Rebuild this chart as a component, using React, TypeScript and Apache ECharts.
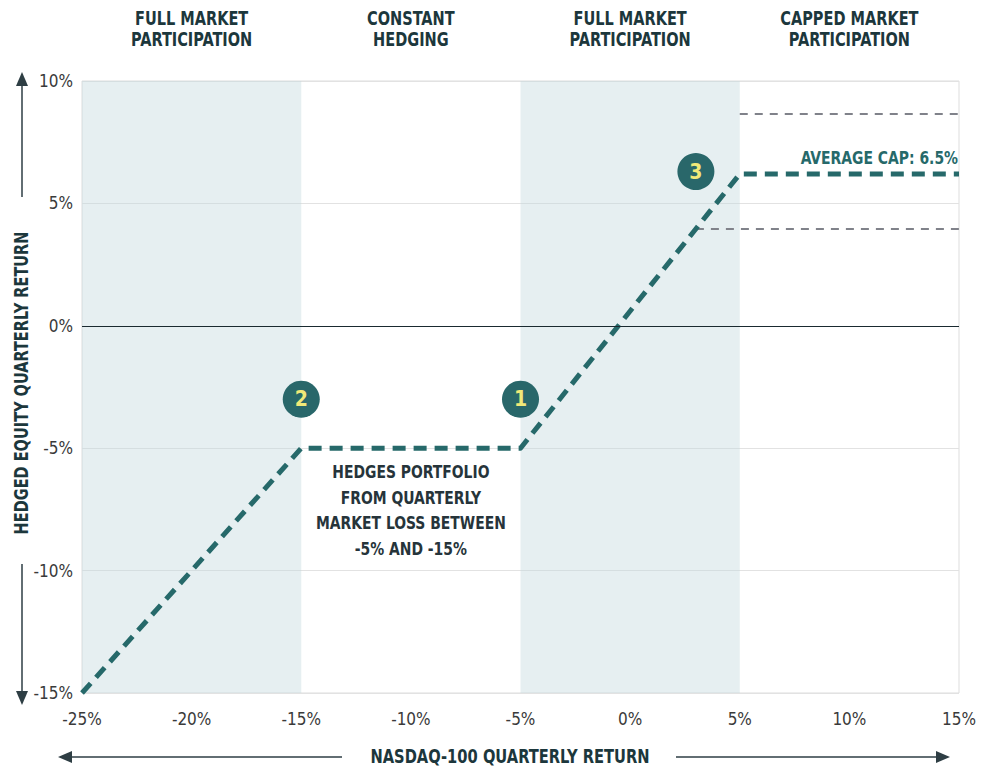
import React, { useEffect, useRef } from "react";
import * as echarts from "echarts";

// Hedged equity payoff path
const pathX = [-25, -15, -5, 5, 15];
const pathY = [-15, -5, -5, 6.2, 6.2];

// Cap range dashed lines
const capHighX = [5, 15];
const capHighY = [8.65, 8.65];
const capLowX = [3, 15];
const capLowY = [3.95, 3.95];

// Numbered markers
const markerX = [-5, -15, 3];
const markerY = [-3.0, -3.0, 6.3];
const markerLabel = ["1", "2", "3"];

// Shaded zones (x ranges)
const shadeZones = [
  [-25, -15],
  [-5, 5],
];

// Zone headers
const zoneHeaders = [
  "FULL MARKET\nPARTICIPATION",
  "CONSTANT\nHEDGING",
  "FULL MARKET\nPARTICIPATION",
  "CAPPED MARKET\nPARTICIPATION",
];
const zoneCenters = [-20, -10, 0, 10];

const xTicks = { min: -25, max: 15, interval: 5 };
const yTicks = { min: -15, max: 10, interval: 5 };

const FONT = "'DejaVu Sans Condensed', 'DejaVu Sans', sans-serif";
const DARK = "#1c373c";
const TEAL = "#26696a";

export default function App() {
  const ref = useRef<HTMLDivElement>(null);

  useEffect(() => {
    if (!ref.current) return;
    const chart = echarts.init(ref.current, undefined, { renderer: "svg" });

    const gridLeft = 82;
    const gridRight = 32;
    const gridTop = 81;
    const gridBottom = 76;
    const W = 991;
    const plotW = W - gridLeft - gridRight;
    const xPix = (v: number) => gridLeft + ((v - xTicks.min) / (xTicks.max - xTicks.min)) * plotW;

    const headerTexts = zoneHeaders.map((t, i) => ({
      type: "text",
      x: xPix(zoneCenters[i]),
      y: 8,
      scaleX: 0.85,
      style: {
        text: t,
        align: "center",
        verticalAlign: "top",
        fontFamily: FONT,
        fontWeight: "bold",
        fontSize: 19,
        lineHeight: 21,
        fill: DARK,
      },
    }));

    const arrowColor = "#2e3e44";

    chart.setOption({
      animation: false,
      grid: {
        left: gridLeft,
        right: gridRight,
        top: gridTop,
        bottom: gridBottom,
        show: true,
        borderColor: "#dddddd",
        borderWidth: 1,
      },
      xAxis: {
        type: "value",
        min: xTicks.min,
        max: xTicks.max,
        interval: xTicks.interval,
        axisLine: { show: false },
        axisTick: { show: false },
        splitLine: { show: false },
        axisLabel: {
          formatter: "{value}%",
          fontFamily: FONT,
          fontSize: 17,
          color: "#3a3a3a",
          margin: 17,
        },
      },
      yAxis: {
        type: "value",
        min: yTicks.min,
        max: yTicks.max,
        interval: yTicks.interval,
        axisLine: { show: false },
        axisTick: { show: false },
        splitLine: { show: true, lineStyle: { color: "#e2e2e2", width: 1 } },
        axisLabel: {
          formatter: "{value}%",
          fontFamily: FONT,
          fontSize: 17,
          color: "#3a3a3a",
          margin: 9,
        },
      },
      series: [
        {
          type: "line",
          z: 1,
          data: [],
          silent: true,
          markArea: {
            silent: true,
            itemStyle: { color: "rgba(196,216,222,0.42)" },
            data: shadeZones.map((z) => [{ xAxis: z[0] }, { xAxis: z[1] }]),
          },
          markLine: {
            silent: true,
            symbol: "none",
            label: { show: false },
            lineStyle: { color: "#1a2a30", width: 1, type: "solid" },
            data: [{ yAxis: 0 }],
          },
        },
        {
          type: "line",
          z: 3,
          data: capHighX.map((x, i) => [x, capHighY[i]]),
          symbol: "none",
          lineStyle: { color: "#80828a", width: 2, type: [8, 7] },
        },
        {
          type: "line",
          z: 3,
          data: capLowX.map((x, i) => [x, capLowY[i]]),
          symbol: "none",
          lineStyle: { color: "#80828a", width: 2, type: [8, 7] },
        },
        {
          type: "line",
          z: 4,
          data: pathX.map((x, i) => [x, pathY[i]]),
          symbol: "none",
          lineStyle: { color: TEAL, width: 5, type: [13, 8], join: "round" },
        },
        {
          type: "scatter",
          z: 5,
          data: markerX.map((x, i) => ({ value: [x, markerY[i]], name: markerLabel[i] })),
          symbol: "circle",
          symbolSize: 37,
          itemStyle: { color: "#29676a", opacity: 1 },
          label: {
            show: true,
            position: "inside",
            formatter: (p: any) => p.name,
            color: "#f0e878",
            fontFamily: FONT,
            fontWeight: "bold",
            fontSize: 21,
          },
        },
      ],
      graphic: [
        ...headerTexts,
        {
          type: "text",
          x: 958,
          y: 158,
          scaleX: 0.86,
          style: {
            text: "AVERAGE CAP: 6.5%",
            align: "right",
            verticalAlign: "middle",
            fontFamily: FONT,
            fontWeight: "bold",
            fontSize: 18,
            fill: TEAL,
          },
        },
        {
          type: "text",
          x: xPix(-10),
          y: 510,
          scaleX: 0.86,
          style: {
            text: "HEDGES PORTFOLIO\nFROM QUARTERLY\nMARKET LOSS BETWEEN\n-5% AND -15%",
            align: "center",
            verticalAlign: "middle",
            fontFamily: FONT,
            fontWeight: "bold",
            fontSize: 18,
            lineHeight: 25.7,
            fill: "#26343a",
          },
        },
        // x axis title with arrows
        {
          type: "text",
          x: 510,
          y: 757,
          scaleX: 0.86,
          style: {
            text: "NASDAQ-100 QUARTERLY RETURN",
            align: "center",
            verticalAlign: "middle",
            fontFamily: FONT,
            fontWeight: "bold",
            fontSize: 19,
            fill: DARK,
          },
        },
        { type: "line", shape: { x1: 66, y1: 757, x2: 342, y2: 757 }, style: { stroke: arrowColor, lineWidth: 1.5 } },
        { type: "polygon", shape: { points: [[58, 757], [72, 751], [72, 763]] }, style: { fill: arrowColor } },
        { type: "line", shape: { x1: 676, y1: 757, x2: 942, y2: 757 }, style: { stroke: arrowColor, lineWidth: 1.5 } },
        { type: "polygon", shape: { points: [[950, 757], [936, 751], [936, 763]] }, style: { fill: arrowColor } },
        // y axis title with arrows
        {
          type: "text",
          x: 22,
          y: 383,
          rotation: Math.PI / 2,
          scaleX: 0.85,
          style: {
            text: "HEDGED EQUITY QUARTERLY RETURN",
            align: "center",
            verticalAlign: "middle",
            fontFamily: FONT,
            fontWeight: "bold",
            fontSize: 19,
            fill: DARK,
          },
        },
        { type: "line", shape: { x1: 22, y1: 197, x2: 22, y2: 80 }, style: { stroke: arrowColor, lineWidth: 1.5 } },
        { type: "polygon", shape: { points: [[22, 72], [16, 86], [28, 86]] }, style: { fill: arrowColor } },
        { type: "line", shape: { x1: 22, y1: 564, x2: 22, y2: 697 }, style: { stroke: arrowColor, lineWidth: 1.5 } },
        { type: "polygon", shape: { points: [[22, 705], [16, 691], [28, 691]] }, style: { fill: arrowColor } },
      ],
    });

    return () => chart.dispose();
  }, []);

  return <div ref={ref} style={{ width: 991, height: 769, position: "absolute", left: 0, top: 0 }} />;
}
